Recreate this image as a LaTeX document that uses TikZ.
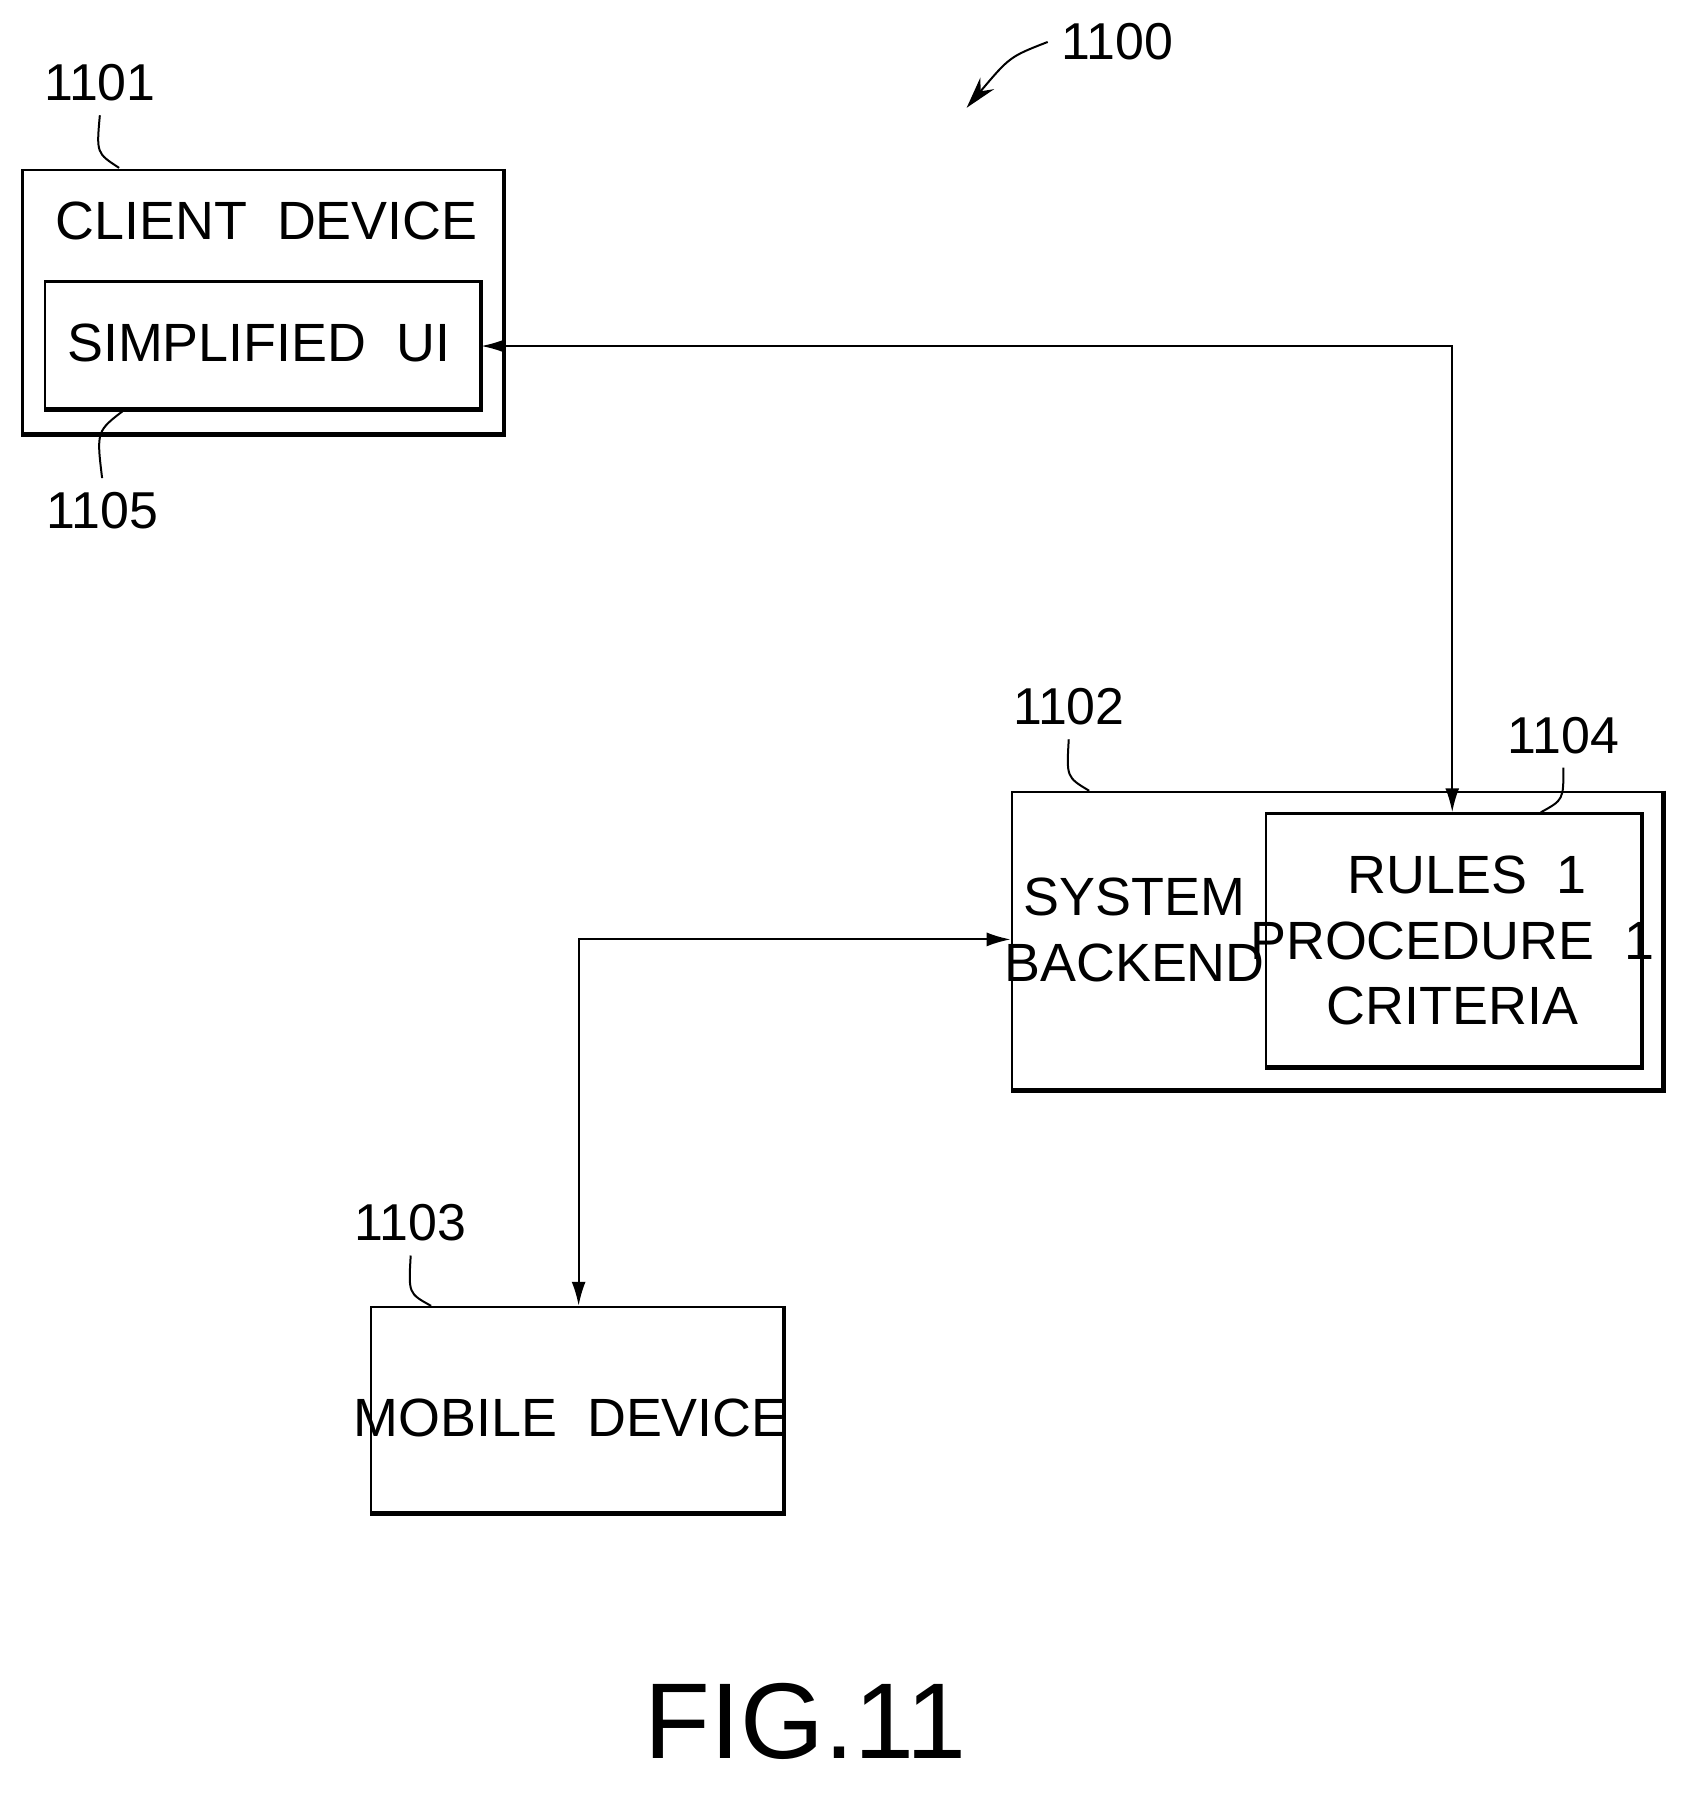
\documentclass[tikz,border=0pt]{standalone}
\usepackage{fontspec}
\setmainfont{Liberation Sans}
\usetikzlibrary{arrows.meta,positioning}
\begin{document}
\begin{tikzpicture}[x=0.01cm,y=-0.01cm]
        % Define styles
        \tikzset{
            box/.style={rectangle, draw, line width=0.6pt},
            shade/.style={line width=1.1pt},
            label/.style={font=\fontsize{13}{15}\selectfont},
            txt/.style={font=\fontsize{13.5}{16.5}\selectfont, align=center},
            leader/.style={line width=0.5pt},
            arrow/.style={line width=0.5pt,{Latex[length=6pt,width=3.5pt]}-{Latex[length=6pt,width=3.5pt]}}
        }
        \useasboundingbox (0,0) rectangle (1500,1583);

        % Create boxes
        \node [box, minimum width=4.23cm, minimum height=2.32cm] (client) at (231.5,266) {};
        \draw [shade] (client.north east) -- (client.south east) -- (client.south west);
        \node [box, minimum width=3.83cm, minimum height=1.12cm] (simui) at (231.5,304) {};
        \draw [shade] (simui.north east) -- (simui.south east) -- (simui.south west);
        \node [txt] at (235,195) {CLIENT\ \ DEVICE};
        \node [txt] at (228,302) {SIMPLIFIED\ \ UI};

        \node [box, minimum width=5.73cm, minimum height=2.62cm] (backend) at (1178.5,829) {};
        \draw [shade] (backend.north east) -- (backend.south east) -- (backend.south west);
        \node [box, minimum width=3.30cm, minimum height=2.23cm] (rules) at (1281,828.5) {};
        \draw [shade] (rules.north east) -- (rules.south east) -- (rules.south west);
        \node [txt] at (1000,820) {SYSTEM\\BACKEND};
        \node [txt] at (1280,829) {\ \ RULES\ \ 1\\PROCEDURE\ \ 1\\CRITERIA};

        \node [box, minimum width=3.63cm, minimum height=1.81cm] (mobile) at (508.5,1242.5) {};
        \draw [shade] (mobile.north east) -- (mobile.south east) -- (mobile.south west);
        \node [txt] at (503,1250) {MOBILE\ \ DEVICE};

        % Create arrows
        \coordinate (c1) at (1280,305);
        \coordinate (c2) at (510,828);
        \draw [arrow] (simui.east |- c1) -- (c1) -- (rules.north -| c1);
        \draw [arrow] (backend.west |- c2) -- (c2) -- (mobile.north -| c2);

        % Add reference labels
        \node [label] (l1100) at (985,37) {1100};
        \draw [leader,-{Stealth[length=8pt,width=4.5pt]}] (l1100.west) .. controls (890,50) .. (852,95);
        \node [label] (l1101) at (88,73) {1101};
        \draw [leader] (l1101.south) .. controls (85,135) .. (105,148);
        \node [label] (l1105) at (90,450) {1105};
        \draw [leader] (l1105.north) .. controls (85,380) .. (110,361);
        \node [label] (l1102) at (942,623) {1102};
        \draw [leader] (l1102.south) .. controls (940,685) .. (960,697);
        \node [label] (l1104) at (1378,648) {1104};
        \draw [leader] (l1104.south) .. controls (1378,705) .. (1358,716);
        \node [label] (l1103) at (362,1078) {1103};
        \draw [leader] (l1103.south) .. controls (360,1140) .. (380,1151);

        \node [font=\fontsize{27}{32}\selectfont] (fig) at (710,1517) {FIG.11};
    \end{tikzpicture}
\end{document}
